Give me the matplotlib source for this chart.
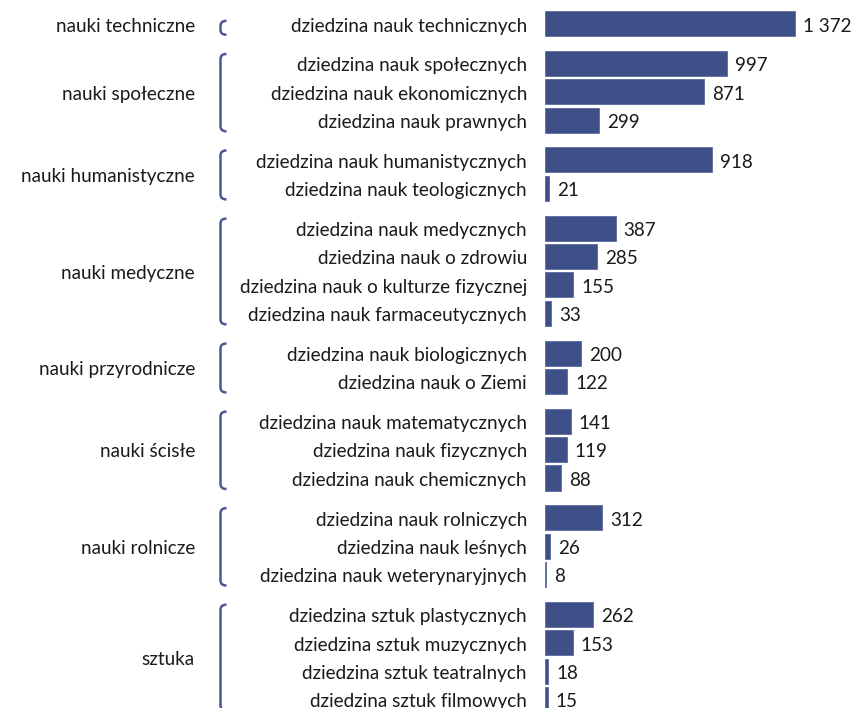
import matplotlib
matplotlib.use("Agg")
import matplotlib.pyplot as plt
from matplotlib.transforms import blended_transform_factory, IdentityTransform, offset_copy
from matplotlib.path import Path
from matplotlib.patches import PathPatch

groups = ["nauki techniczne", "nauki społeczne", "nauki humanistyczne", "nauki medyczne",
          "nauki przyrodnicze", "nauki ścisłe", "nauki rolnicze", "sztuka"]
fields = [
    ["dziedzina nauk technicznych"],
    ["dziedzina nauk społecznych", "dziedzina nauk ekonomicznych", "dziedzina nauk prawnych"],
    ["dziedzina nauk humanistycznych", "dziedzina nauk teologicznych"],
    ["dziedzina nauk medycznych", "dziedzina nauk o zdrowiu",
     "dziedzina nauk o kulturze fizycznej", "dziedzina nauk farmaceutycznych"],
    ["dziedzina nauk biologicznych", "dziedzina nauk o Ziemi"],
    ["dziedzina nauk matematycznych", "dziedzina nauk fizycznych", "dziedzina nauk chemicznych"],
    ["dziedzina nauk rolniczych", "dziedzina nauk leśnych", "dziedzina nauk weterynaryjnych"],
    ["dziedzina sztuk plastycznych", "dziedzina sztuk muzycznych",
     "dziedzina sztuk teatralnych", "dziedzina sztuk filmowych"],
]
values = [
    [1372],
    [997, 871, 299],
    [918, 21],
    [387, 285, 155, 33],
    [200, 122],
    [141, 119, 88],
    [312, 26, 8],
    [262, 153, 18, 15],
]

BAR = "#3F5089"
TXT = "#1A1A1A"
FONT = "Lato"
FS = 13.6

W, H = 852, 708
fig = plt.figure(figsize=(W / 100, H / 100), dpi=100)
fig.patch.set_facecolor("white")

ROW = 28.45      # px per row
GAP = 11.18 / ROW
Y0 = 23.8        # px of first row centre
PXU = 0.1822     # px per unit value
BAR_LEFT = 545

ax = fig.add_axes([BAR_LEFT / W, 0, (W - BAR_LEFT) / W, 1])
ax.set_xlim(0, (W - BAR_LEFT) / PXU)
ax.set_ylim((H - Y0) / ROW, -Y0 / ROW)
ax.axis("off")

pos, vals, labs, spans = [], [], [], []
k = 0
for g, (flist, vlist) in enumerate(zip(fields, values)):
    start = k + g * GAP
    for f, v in zip(flist, vlist):
        pos.append(k + g * GAP)
        vals.append(v)
        labs.append(f)
        k += 1
    spans.append((start, k - 1 + g * GAP))

ax.barh(pos, vals, height=0.88, color=BAR, edgecolor="#5A6AA0", linewidth=0.6)

xfig = blended_transform_factory(IdentityTransform(), ax.transData)
base = offset_copy(xfig, fig=fig, y=-7.9, units="dots")
base_val = offset_copy(ax.transData, fig=fig, x=8, y=-7.9, units="dots")

def fmt(v):
    return f"{v:,}".replace(",", " ")

for p, v, l in zip(pos, vals, labs):
    ax.text(527, p, l, transform=base, ha="right", va="baseline",
            fontsize=FS, family=FONT, color=TXT, clip_on=False)
    ax.text(v, p, fmt(v), transform=base_val, ha="left", va="baseline",
            fontsize=FS, family=FONT, color=TXT, clip_on=False)

for gname, (a, b) in zip(groups, spans):
    mid = (a + b) / 2
    ax.text(195, mid, gname, transform=base, ha="right", va="baseline",
            fontsize=FS, family=FONT, color=TXT, clip_on=False)
    if a == b:
        top = a - 3 / ROW
        bot = b + 11 / ROW
    else:
        top = a - 9.5 / ROW
        bot = b + 11 / ROW
    xl = 220.5
    xr = 226.5
    c = 5 / ROW
    verts = [(xr, top), (xl, top), (xl, top + c), (xl, bot - c), (xl, bot), (xr, bot)]
    codes = [Path.MOVETO, Path.CURVE3, Path.CURVE3, Path.LINETO, Path.CURVE3, Path.CURVE3]
    ax.add_patch(PathPatch(Path(verts, codes), transform=xfig, facecolor="none",
                           edgecolor="#4A5A90", linewidth=1.8, clip_on=False))

fig.savefig("out.png", dpi=100)
